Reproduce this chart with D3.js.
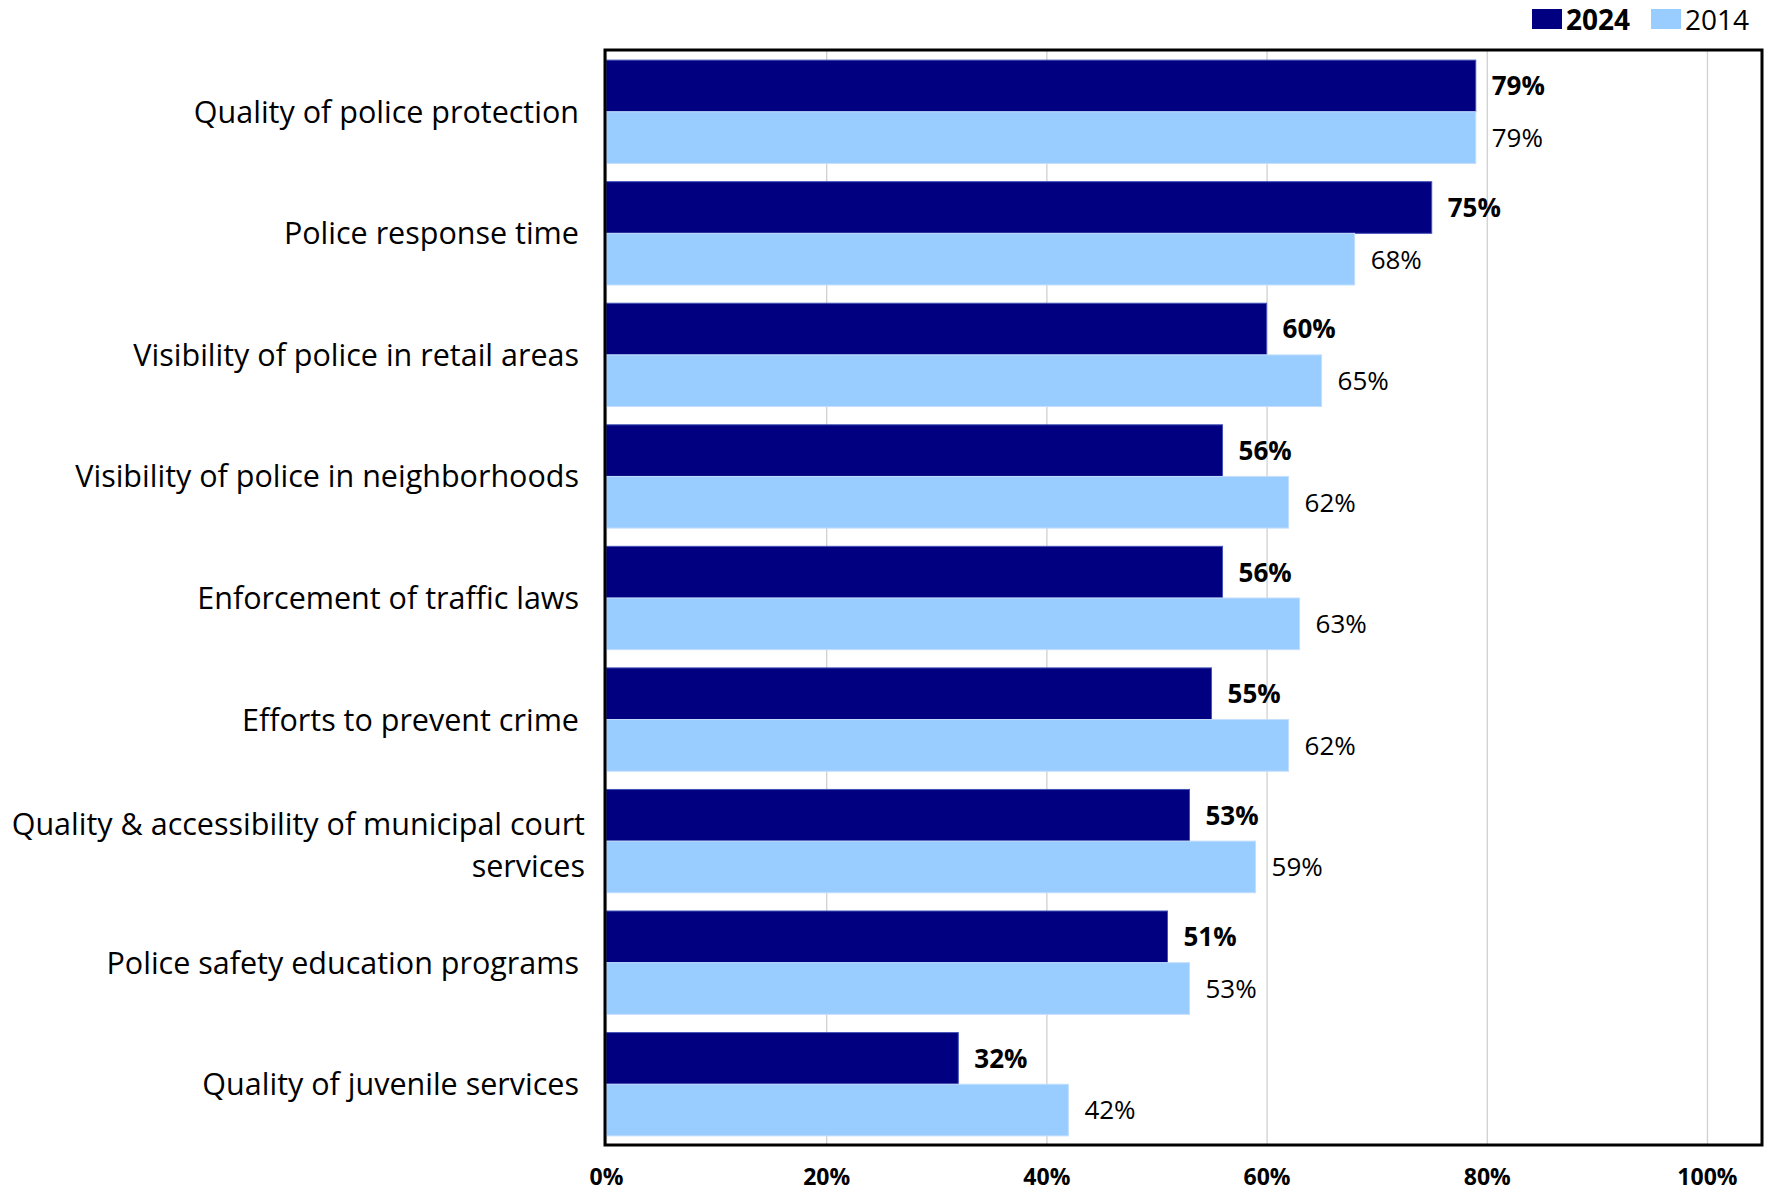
<!DOCTYPE html>
<html>
<head>
<meta charset="utf-8">
<script src="https://cdn.jsdelivr.net/npm/d3@7"></script>
<style>
  body { margin: 0; background: #fff; }
  svg { display: block; }
  text { font-family: "Open Sans", Lato, sans-serif; fill: #000; }
</style>
</head>
<body>
<svg id="chart" width="1773" height="1194"></svg>
<script>
// Satisfaction with police services, 2024 vs 2014 (% satisfied)
const categories = [
  "Quality of police protection",
  "Police response time",
  "Visibility of police in retail areas",
  "Visibility of police in neighborhoods",
  "Enforcement of traffic laws",
  "Efforts to prevent crime",
  "Quality & accessibility of municipal court services",
  "Police safety education programs",
  "Quality of juvenile services"
];
const seriesNames = ["2024", "2014"];
const values2024 = [79, 75, 60, 56, 56, 55, 53, 51, 32];
const values2014 = [79, 68, 65, 62, 63, 62, 59, 53, 42];
const tickValues = [0, 20, 40, 60, 80, 100];

const colors = { "2024": "#000080", "2014": "#99CCFF" };
const edges  = { "2024": "#4453b8", "2014": "#c4defc" };

const svg = d3.select("#chart");
const plot = { left: 606, right: 1762, top: 51, bottom: 1145 };

const x = d3.scaleLinear().domain([0, 105]).range([plot.left, plot.right]);
const y = d3.scaleBand().domain(categories).range([plot.top, plot.bottom])
  .paddingInner(0.15).paddingOuter(0.075);
const sub = d3.scaleBand().domain(seriesNames).range([0, y.bandwidth()]);

const rows = categories.map((c, i) => ({
  category: c,
  values: [
    { series: "2024", value: values2024[i] },
    { series: "2014", value: values2014[i] }
  ]
}));

// vertical gridlines
svg.append("g")
  .attr("transform", `translate(0,${plot.bottom})`)
  .call(d3.axisBottom(x).tickValues(tickValues).tickSize(-(plot.bottom - plot.top)).tickFormat(""))
  .call(g => g.select(".domain").remove())
  .call(g => g.selectAll("line").attr("stroke", "#d0d0d0").attr("stroke-width", 1.3));

// bars
const groups = svg.append("g").selectAll("g")
  .data(rows).join("g")
  .attr("transform", d => `translate(0,${y(d.category)})`);

groups.selectAll("rect")
  .data(d => d.values).join("rect")
  .attr("x", x(0))
  .attr("y", d => sub(d.series))
  .attr("width", d => x(d.value) - x(0))
  .attr("height", sub.bandwidth())
  .attr("fill", d => colors[d.series])
  .attr("stroke", d => edges[d.series])
  .attr("stroke-width", 1);

// value labels
groups.selectAll("text.val")
  .data(d => d.values).join("text")
  .attr("class", "val")
  .attr("x", d => x(d.value) + 16)
  .attr("y", d => sub(d.series) + sub.bandwidth() / 2)
  .attr("dy", "0.36em")
  .attr("font-size", 26)
  .attr("font-weight", d => d.series === "2024" ? 700 : 400)
  .text(d => d.value + "%");

// frame around the plot area
svg.append("rect")
  .attr("x", plot.left - 1).attr("y", plot.top - 1)
  .attr("width", plot.right - plot.left + 1).attr("height", plot.bottom - plot.top + 1)
  .attr("fill", "none").attr("stroke", "#000").attr("stroke-width", 3);

// x axis labels
svg.append("g")
  .attr("transform", `translate(0,${plot.bottom})`)
  .call(d3.axisBottom(x).tickValues(tickValues).tickSize(0).tickPadding(24).tickFormat(d => d + "%"))
  .call(g => g.select(".domain").remove())
  .call(g => g.selectAll("text")
    .attr("font-family", "'Open Sans', sans-serif")
    .attr("font-size", 23).attr("font-weight", 700).attr("fill", "#000"));

// category labels, wrapped to the space left of the plot
const labelRight = 579, labelMax = 585, lineHeight = 42;
const catLabels = svg.append("g").selectAll("text")
  .data(categories).join("text")
  .attr("text-anchor", "end")
  .attr("font-size", 30.5);

catLabels.each(function (d) {
  const t = d3.select(this);
  const words = d.split(" ");
  const lines = [];
  let line = [];
  const probe = t.append("tspan");
  words.forEach(w => {
    const trial = line.concat(w).join(" ");
    probe.text(trial);
    if (probe.node().getComputedTextLength() > labelMax && line.length) {
      lines.push(line.join(" "));
      line = [w];
    } else {
      line.push(w);
    }
  });
  lines.push(line.join(" "));
  probe.remove();
  const cy = y(d) + y.bandwidth() / 2;
  const first = cy - (lines.length - 1) * lineHeight / 2;
  const ax = lines.length > 1 ? labelRight + 6 : labelRight;
  lines.forEach((l, i) => {
    t.append("tspan")
      .attr("x", ax)
      .attr("y", first + i * lineHeight + (lines.length > 1 ? 4 : 0))
      .attr("dy", "0.36em")
      .text(l);
  });
});

// legend
const legend = svg.append("g").attr("transform", "translate(1532,9)");
const legendItems = [
  { name: "2024", x: 0, bold: true },
  { name: "2014", x: 119, bold: false }
];
const li = legend.selectAll("g").data(legendItems).join("g")
  .attr("transform", d => `translate(${d.x},0)`);
li.append("rect").attr("width", 30).attr("height", 20).attr("fill", d => colors[d.name]);
li.append("text")
  .attr("x", 34).attr("y", 11).attr("dy", "0.36em")
  .attr("font-size", 28)
  .attr("font-weight", d => d.bold ? 700 : 400)
  .text(d => d.name);
</script>
</body>
</html>
